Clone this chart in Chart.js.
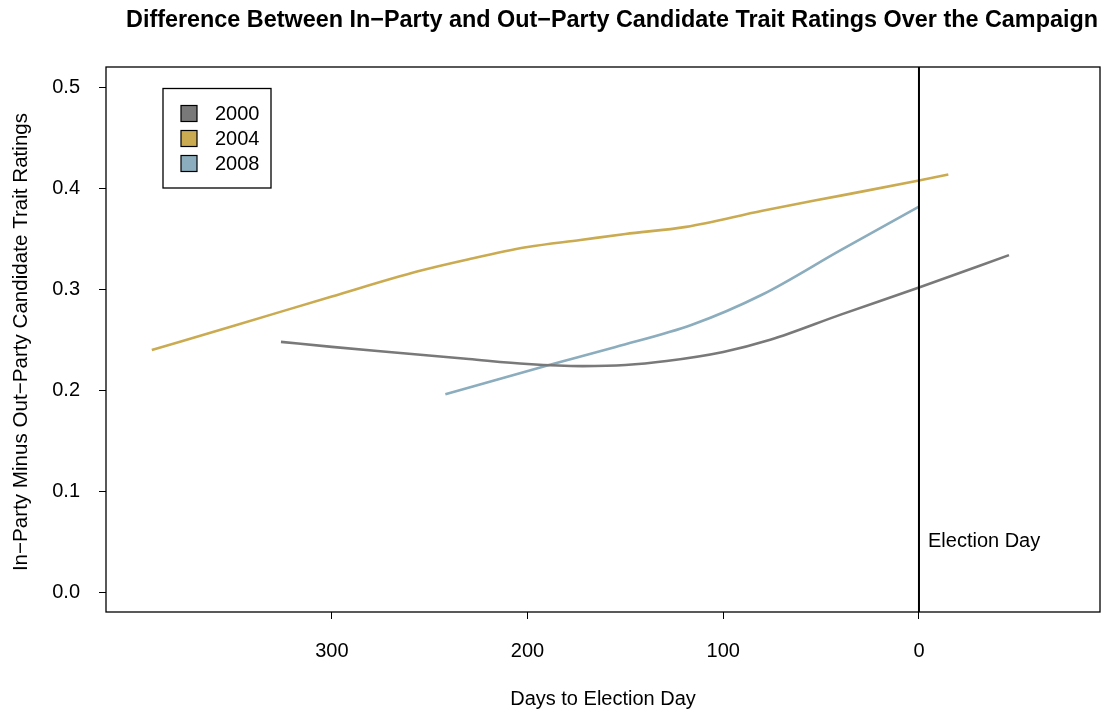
<!DOCTYPE html>
<html>
<head>
<meta charset="utf-8">
<script src="https://cdn.jsdelivr.net/npm/chart.js@4/dist/chart.umd.min.js"></script>
<style>
  html, body { margin: 0; padding: 0; background: #fff; }
  #wrap { width: 1110px; height: 713px; }
</style>
</head>
<body>
<div id="wrap"><canvas id="traitChart" width="1110" height="713"></canvas></div>
<script>
// Days to election day (x) and rating difference (y)
const days2000 = [326, 300, 265, 230, 200, 172, 150, 129, 100, 76, 40, 0, -46];
const vals2000 = [0.248, 0.243, 0.237, 0.231, 0.226, 0.224, 0.225, 0.229, 0.238, 0.250, 0.275, 0.302, 0.334];

const days2004 = [392, 350, 300, 256, 230, 200, 173, 150, 119, 80, 40, 0, -15];
const vals2004 = [0.240, 0.264, 0.293, 0.318, 0.330, 0.342, 0.349, 0.355, 0.362, 0.378, 0.393, 0.408, 0.414];

const days2008 = [242, 189, 155, 116, 80, 40, 0];
const vals2008 = [0.196, 0.225, 0.243, 0.265, 0.295, 0.339, 0.382];

const seriesNames = ['2000', '2004', '2008'];
const seriesColors = ['#797979', '#cbab51', '#8badbd'];

const xTicks = [300, 200, 100, 0];
const yTicks = [0.0, 0.1, 0.2, 0.3, 0.4, 0.5];

const FONT = 'Liberation Sans, Arial, Helvetica, sans-serif';

const toPoints = (xs, ys) => xs.map((x, i) => ({ x: x, y: ys[i] }));
const allSeries = [toPoints(days2000, vals2000), toPoints(days2004, vals2004), toPoints(days2008, vals2008)];

// Frame, election day line, labels, legend, titles
const decorations = {
    id: 'decorations',
    afterDatasetsDraw(chart) {
        const { ctx, chartArea: a, scales } = chart;
        ctx.save();

        // election day vertical line
        const x0 = scales.x.getPixelForValue(0);
        ctx.strokeStyle = '#000';
        ctx.lineWidth = 2;
        ctx.beginPath();
        ctx.moveTo(x0, a.top);
        ctx.lineTo(x0, a.bottom);
        ctx.stroke();

        ctx.fillStyle = '#000';
        ctx.font = '20px ' + FONT;
        ctx.textAlign = 'left';
        ctx.textBaseline = 'middle';
        ctx.fillText('Election Day', x0 + 9, 541);

        // plot frame
        ctx.lineWidth = 1.3;
        ctx.strokeRect(a.left, a.top, a.right - a.left, a.bottom - a.top);

        // legend
        ctx.lineWidth = 1.3;
        ctx.strokeRect(163, 88.5, 108, 99.5);
        seriesNames.forEach((name, i) => {
            const cy = 113.5 + i * 25;
            ctx.fillStyle = seriesColors[i];
            ctx.fillRect(181, cy - 8, 16, 16);
            ctx.strokeStyle = '#000';
            ctx.lineWidth = 1.2;
            ctx.strokeRect(181, cy - 8, 16, 16);
            ctx.fillStyle = '#000';
            ctx.fillText(name, 215, cy + 1);
        });

        // title
        ctx.font = 'bold 23.4px ' + FONT;
        ctx.textAlign = 'center';
        ctx.fillText('Difference Between In\u2212Party and Out\u2212Party Candidate Trait Ratings Over the Campaign', 612, 21, 972);

        // axis titles
        ctx.font = '20px ' + FONT;
        ctx.fillText('Days to Election Day', 603, 699);
        ctx.font = '20.6px ' + FONT;
        ctx.translate(21, 342);
        ctx.rotate(-Math.PI / 2);
        ctx.fillText('In\u2212Party Minus Out\u2212Party Candidate Trait Ratings', 0, 0);
        ctx.restore();
    }
};

new Chart(document.getElementById('traitChart'), {
    type: 'line',
    data: {
        datasets: allSeries.map((pts, i) => ({
            label: seriesNames[i],
            data: pts,
            borderColor: seriesColors[i],
            borderWidth: 2.6,
            pointRadius: 0,
            fill: false,
            cubicInterpolationMode: 'monotone'
        }))
    },
    options: {
        responsive: false,
        animation: false,
        events: [],
        layout: { padding: { top: 67, right: 10, left: 0, bottom: 0 } },
        plugins: { legend: { display: false }, title: { display: false }, tooltip: { enabled: false } },
        scales: {
            x: {
                type: 'linear',
                reverse: true,
                min: -92.5,
                max: 415.4,
                afterBuildTicks: (s) => { s.ticks = xTicks.map(v => ({ value: v })); },
                afterFit: (s) => { s.height = 101; },
                grid: { drawOnChartArea: false, drawTicks: true, tickLength: 7, color: '#000', lineWidth: 1 },
                border: { display: false },
                ticks: { color: '#000', font: { family: FONT, size: 20 }, padding: 20, maxRotation: 0, autoSkip: false }
            },
            y: {
                min: -0.0198,
                max: 0.5205,
                afterBuildTicks: (s) => { s.ticks = yTicks.map(v => ({ value: v })); },
                afterFit: (s) => { s.width = 106; },
                grid: { drawOnChartArea: false, drawTicks: true, tickLength: 7, color: '#000', lineWidth: 1 },
                border: { display: false },
                ticks: { color: '#000', font: { family: FONT, size: 20 }, padding: 19, autoSkip: false,
                         callback: (v) => v.toFixed(1) }
            }
        }
    },
    plugins: [decorations]
});
</script>
</body>
</html>
